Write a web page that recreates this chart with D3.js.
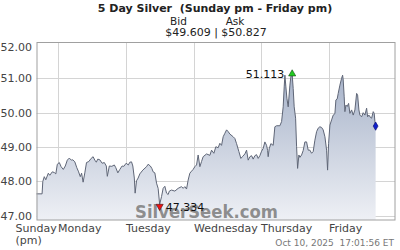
<!DOCTYPE html>
<html>
<head>
<meta charset="utf-8">
<script src="https://cdn.jsdelivr.net/npm/d3@7"></script>
<style>
  body { margin: 0; background: #fff; }
  svg { display: block; font-family: "DejaVu Sans", Verdana, sans-serif; }
</style>
</head>
<body>
<div id="chart"></div>
<script>
// hours since Monday 00:00 and the silver bid at that time
const hours = [-7.65, -5.67, -5.42, -4.89, -4.36, -3.47, -2.94, -2.05, -1.35, -0.81, -0.28, 0.43, 1.06, 1.84, 2.55, 3.26,
  3.97, 4.68, 5.21, 5.92, 6.62, 7.16, 7.86, 8.32, 8.86, 9.46, 10.06, 10.88, 11.69, 12.4, 13.0, 13.53, 14.06, 14.77,
  15.59, 16.37, 17.07, 17.43, 18.14, 19.02, 19.91, 20.44, 21.15, 21.86, 22.67, 23.27, 24.09, 24.87, 25.4, 26.0, 26.46,
  26.99, 27.28, 27.77, 28.34, 28.94, 30.0, 31.32, 31.88, 32.66, 33.19, 33.65, 34.26, 34.86, 35.42, 35.96, 36.63, 37.2,
  37.8, 38.4, 38.97, 39.39, 40.17, 41.34, 42.51, 43.71, 44.28, 44.88, 45.48, 46.05, 46.65, 47.26, 47.82, 48.42, 49.03,
  49.59, 50.2, 50.8, 51.36, 52.57, 53.74, 54.34, 55.16, 55.86, 56.68, 57.28, 57.88, 58.45, 59.05, 59.66, 60.22, 60.82,
  61.99, 62.59, 63.2, 64.01, 64.72, 65.25, 66.14, 66.74, 67.31, 67.91, 68.51, 69.08, 69.68, 70.28, 70.85, 71.45, 72.05,
  72.62, 73.22, 73.82, 74.18, 74.39, 74.75, 75.35, 76.16, 76.76, 77.37, 78.53, 79.14, 79.7, 80.06, 80.31, 80.66, 81.02,
  81.48, 82.08, 82.43, 82.89, 83.25, 83.6, 84.1, 84.45, 84.81, 85.27, 85.62, 86.22, 86.79, 87.39, 87.99, 88.56, 89.16,
  89.76, 90.33, 90.93, 91.54, 92.1, 92.7, 93.31, 93.87, 94.48, 95.08, 95.43, 95.79, 96.25, 96.85, 97.42, 98.02, 98.37,
  98.83, 99.19, 99.79, 100.39, 100.75, 100.96, 101.31, 101.56, 101.92, 102.38, 102.87, 103.33, 103.94, 104.5, 105.1,
  105.71, 106.06, 106.52, 106.87, 107.48, 108.04, 108.65, 109.25, 109.6, 110.06, 110.42, 111.02, 111.59, 111.94,
  112.19, 112.44];
const bids = [47.64, 47.64, 48.0, 48.14, 48.05, 48.24, 48.18, 48.28, 48.26, 48.22, 48.5, 48.55, 48.43, 48.35, 48.45,
  48.62, 48.68, 48.62, 48.63, 48.57, 48.4, 48.3, 48.14, 48.24, 47.98, 48.25, 48.55, 48.58, 48.67, 48.72, 48.62, 48.56,
  48.65, 48.63, 48.53, 48.55, 48.45, 48.15, 48.45, 48.44, 48.48, 48.4, 48.25, 48.35, 48.45, 48.44, 48.53, 48.48, 48.56,
  48.57, 48.45, 48.1, 47.66, 48.02, 48.1, 48.22, 48.33, 48.43, 48.5, 48.45, 48.38, 48.28, 48.25, 47.95, 47.8, 47.334,
  47.56, 47.8, 47.86, 47.66, 47.62, 47.72, 47.75, 47.72, 47.8, 47.85, 47.8, 47.85, 47.78, 48.04, 48.24, 48.3, 48.35,
  48.43, 48.48, 48.77, 48.43, 48.58, 48.72, 48.8, 48.76, 48.91, 48.82, 49.01, 48.98, 49.11, 49.05, 49.3, 49.4, 49.5,
  49.45, 49.38, 49.3, 49.25, 49.1, 48.87, 48.67, 48.72, 48.8, 48.91, 48.62, 48.72, 48.75, 48.65, 48.75, 48.78, 48.67,
  48.75, 48.88, 48.96, 49.15, 49.05, 48.9, 48.72, 48.95, 49.1, 49.05, 49.59, 49.62, 49.62, 49.74, 50.17, 50.75, 51.09,
  50.75, 50.42, 50.17, 50.8, 51.05, 51.113, 50.7, 50.17, 49.84, 49.01, 48.38, 48.77, 48.7, 48.77, 48.9, 49.15, 49.15,
  48.91, 48.91, 48.82, 48.87, 49.2, 49.45, 49.55, 49.59, 49.57, 49.5, 49.3, 48.91, 48.33, 49.11, 49.64, 49.79, 49.93,
  49.97, 50.37, 50.4, 50.56, 50.8, 51.0, 51.09, 50.95, 50.46, 50.03, 50.22, 50.18, 50.27, 49.98, 50.08, 49.93, 50.08,
  50.56, 50.51, 50.08, 49.93, 49.88, 50.0, 49.93, 50.13, 49.88, 49.93, 49.88, 49.84, 50.03, 49.98, 49.74, 49.609];

const dayTicks = [0, 24, 48, 72, 96];
const dayLabels = ['Monday', 'Tuesday', 'Wednesday', 'Thursday', 'Friday'];
const priceTicks = [47, 48, 49, 50, 51, 52];
const bid = '$49.609', ask = '$50.827';
const stamp = 'Oct 10, 2025  17:01:56 ET';

const data = hours.map((h, i) => ({ h: h, v: bids[i] }));

const W = 400, H = 250;
const m = { top: 42.5, right: 5, bottom: 30, left: 36.5 };

const svg = d3.select('#chart').append('svg').attr('width', W).attr('height', H);

const x = d3.scaleLinear().domain([-7.65, 119.3]).range([m.left, W - m.right]);
const y = d3.scaleLinear().domain([46.88, 52.04]).range([H - m.bottom, m.top]);

const grad = svg.append('defs').append('linearGradient')
  .attr('id', 'fill').attr('gradientUnits', 'userSpaceOnUse')
  .attr('x1', 0).attr('x2', 0).attr('y1', m.top).attr('y2', H - m.bottom);
grad.append('stop').attr('offset', 0).attr('stop-color', '#98a6c0');
grad.append('stop').attr('offset', 1).attr('stop-color', '#eef0f5');

// grid
svg.append('g').selectAll('line').data(priceTicks.filter(d => d < 52)).join('line')
  .attr('x1', m.left).attr('x2', W - m.right)
  .attr('y1', d => Math.round(y(d)) + 0.5).attr('y2', d => Math.round(y(d)) + 0.5)
  .attr('stroke', '#d4d4d4');
svg.append('g').selectAll('line').data(dayTicks).join('line')
  .attr('x1', d => Math.round(x(d)) + 0.5).attr('x2', d => Math.round(x(d)) + 0.5)
  .attr('y1', m.top).attr('y2', H - m.bottom)
  .attr('stroke', '#d4d4d4');

// area + line
const area = d3.area().x(d => x(d.h)).y0(y(46.88)).y1(d => y(d.v));
const line = d3.line().x(d => x(d.h)).y(d => y(d.v));
svg.append('path').datum(data).attr('d', area).attr('fill', 'url(#fill)');
svg.append('path').datum(data).attr('d', line)
  .attr('fill', 'none').attr('stroke', '#5f6677').attr('stroke-width', 1);

// watermark
svg.append('text').attr('x', 135).attr('y', 218)
  .attr('font-weight', 'bold')
  .attr('font-size', 17).attr('textLength', 143).attr('lengthAdjust', 'spacingAndGlyphs')
  .attr('fill', '#7c7c7c').attr('fill-opacity', 0.85).text('SilverSeek.com');

// frame
svg.append('rect').attr('x', m.left + 0.5).attr('y', m.top)
  .attr('width', W - m.right - m.left - 0.5).attr('height', H - m.bottom - m.top)
  .attr('fill', 'none').attr('stroke', '#a0a0a0');

// y labels
svg.append('g').selectAll('text').data(priceTicks).join('text')
  .attr('x', 32).attr('y', d => Math.max(y(d), 46.5) + 4)
  .attr('text-anchor', 'end').attr('font-size', 11).attr('fill', '#444')
  .text(d => d.toFixed(2));

// x labels
svg.append('g').selectAll('text').data(dayTicks).join('text')
  .attr('x', d => Math.round(x(d)))
  .attr('y', 232).attr('font-size', 11).attr('fill', '#444')
  .text((d, i) => dayLabels[i]);
svg.append('text').attr('x', 15.5).attr('y', 232).attr('font-size', 11).attr('fill', '#444').text('Sunday');
svg.append('text').attr('x', 15.5).attr('y', 244).attr('font-size', 11).attr('fill', '#444').text('(pm)');
svg.append('text').attr('x', 394).attr('y', 246).attr('text-anchor', 'end')
  .attr('font-size', 9).attr('fill', '#777').attr('xml:space', 'preserve').text(stamp);

// title
svg.append('text').attr('x', 215).attr('y', 12).attr('text-anchor', 'middle')
  .attr('font-size', 11).attr('font-weight', 'bold').attr('fill', '#222')
  .attr('xml:space', 'preserve').text('5 Day Silver  (Sunday pm - Friday pm)');
svg.append('text').attr('x', 178.5).attr('y', 25).attr('text-anchor', 'middle')
  .attr('font-size', 10.5).attr('fill', '#222').text('Bid');
svg.append('text').attr('x', 235).attr('y', 25).attr('text-anchor', 'middle')
  .attr('font-size', 10.5).attr('fill', '#222').text('Ask');
svg.append('text').attr('x', 216).attr('y', 36).attr('text-anchor', 'middle')
  .attr('font-size', 11).attr('fill', '#222').text(bid + ' | ' + ask);

// markers
const hi = data.reduce((a, b) => (b.v > a.v ? b : a));
const lo = data.reduce((a, b) => (b.v < a.v ? b : a));
const last = data[data.length - 1];
const sym = d3.symbol().type(d3.symbolTriangle).size(22);

svg.append('path').attr('d', sym())
  .attr('transform', `translate(${x(hi.h)},${y(hi.v) - 0.5})`)
  .attr('fill', '#22cc22').attr('stroke', '#114411').attr('stroke-width', 0.6);
svg.append('text').attr('x', x(hi.h) - 8).attr('y', y(hi.v) + 3.5)
  .attr('text-anchor', 'end').attr('font-size', 11).attr('fill', '#111').text(hi.v.toFixed(3));

svg.append('path').attr('d', sym())
  .attr('transform', `translate(${x(lo.h)},${y(lo.v) + 2}) rotate(180)`)
  .attr('fill', '#ee1111').attr('stroke', '#441111').attr('stroke-width', 0.6);
svg.append('text').attr('x', x(lo.h) + 6).attr('y', y(lo.v) + 7)
  .attr('font-size', 11).attr('fill', '#111').text(lo.v.toFixed(3));

svg.append('path').attr('d', d3.symbol().type(d3.symbolDiamond).size(20)())
  .attr('transform', `translate(${x(last.h)},${y(last.v)})`)
  .attr('fill', '#1122cc').attr('stroke', '#000066').attr('stroke-width', 0.6);
</script>
</body>
</html>
